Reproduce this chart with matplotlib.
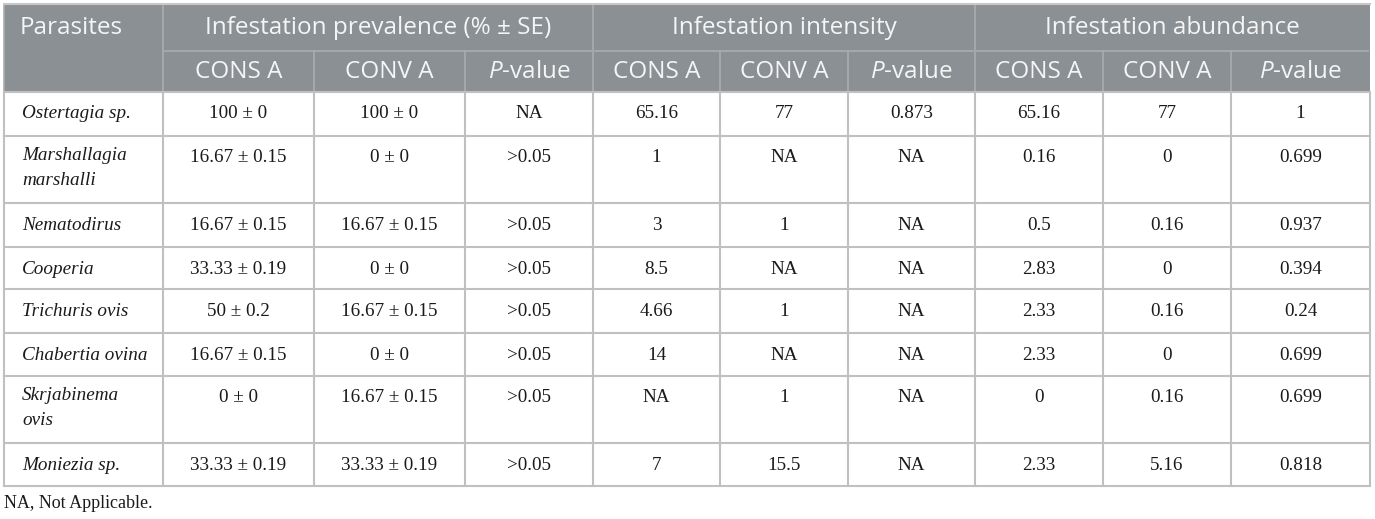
import matplotlib
matplotlib.use("Agg")
import matplotlib.pyplot as plt
from matplotlib.patches import Rectangle

plt.rcParams['mathtext.fontset'] = 'custom'
plt.rcParams['mathtext.rm'] = 'Open Sans'
plt.rcParams['mathtext.it'] = 'Open Sans:italic'

# table content
parasites = ["Ostertagia sp.", "Marshallagia\nmarshalli", "Nematodirus", "Cooperia",
             "Trichuris ovis", "Chabertia ovina", "Skrjabinema\novis", "Moniezia sp."]
prev_cons = ["100 ± 0", "16.67 ± 0.15", "16.67 ± 0.15", "33.33 ± 0.19",
             "50 ± 0.2", "16.67 ± 0.15", "0 ± 0", "33.33 ± 0.19"]
prev_conv = ["100 ± 0", "0 ± 0", "16.67 ± 0.15", "0 ± 0",
             "16.67 ± 0.15", "0 ± 0", "16.67 ± 0.15", "33.33 ± 0.19"]
prev_p = ["NA", ">0.05", ">0.05", ">0.05", ">0.05", ">0.05", ">0.05", ">0.05"]
int_cons = ["65.16", "1", "3", "8.5", "4.66", "14", "NA", "7"]
int_conv = ["77", "NA", "1", "NA", "1", "NA", "1", "15.5"]
int_p = ["0.873", "NA", "NA", "NA", "NA", "NA", "NA", "NA"]
abu_cons = ["65.16", "0.16", "0.5", "2.83", "2.33", "2.33", "0", "2.33"]
abu_conv = ["77", "0", "0.16", "0", "0.16", "0", "0.16", "5.16"]
abu_p = ["1", "0.699", "0.937", "0.394", "0.24", "0.699", "0.699", "0.818"]

groups = ["Infestation prevalence (% ± SE)", "Infestation intensity", "Infestation abundance"]
sub_labels = ["CONS A", "CONV A", r"$\mathit{P}$-value"]
footnote = "NA, Not Applicable."

# layout in pixels
col_x = [4, 163, 314, 465, 593, 720, 848, 975, 1103, 1231, 1370]
row_y = [4, 51, 92, 136, 203, 247, 289, 333, 376, 443, 486]

header_bg = "#8b9094"
header_fg = "#f5f5f5"
grid_c = "#c0c0c0"
text_c = "#1a1a1a"
sans = "Open Sans"
serif = "Liberation Serif"
hfs = 17.5
bfs = 13.8

fig = plt.figure(figsize=(13.75, 5.19), dpi=100)
ax = fig.add_axes([0, 0, 1, 1])
ax.set_xlim(0, 1375)
ax.set_ylim(519, 0)
ax.axis('off')

# header background
ax.add_patch(Rectangle((col_x[0], row_y[0]), col_x[-1] - col_x[0], row_y[2] - row_y[0],
                       facecolor=header_bg, edgecolor='none'))

# header lines (lighter)
hl = "#a9adb0"
ax.plot([col_x[0], col_x[0]], [row_y[0], row_y[2]], color=hl, lw=1.2)
for g in range(3):
    x0 = col_x[1 + 3 * g]
    ax.plot([x0, x0], [row_y[0], row_y[2]], color=hl, lw=1.2)
    ax.plot([x0 + 2, col_x[4 + 3 * g] - 2], [row_y[1], row_y[1]], color=hl, lw=1.2)
    for k in (1, 2):
        xs = col_x[1 + 3 * g + k]
        ax.plot([xs, xs], [row_y[1], row_y[2]], color=hl, lw=1.2)

# header text
ax.text(20, (row_y[0] + row_y[1]) / 2 + 1, "Parasites", color=header_fg, fontsize=hfs,
        family=sans, ha='left', va='center')
for g, name in enumerate(groups):
    xc = (col_x[1 + 3 * g] + col_x[4 + 3 * g]) / 2
    ax.text(xc, (row_y[0] + row_y[1]) / 2 + 1, name, color=header_fg, fontsize=hfs,
            family=sans, ha='center', va='center')
    for k, lab in enumerate(sub_labels):
        xc = (col_x[1 + 3 * g + k] + col_x[2 + 3 * g + k]) / 2
        ax.text(xc, (row_y[1] + row_y[2]) / 2 + 1, lab, color=header_fg, fontsize=hfs,
                family=sans, ha='center', va='center')

# body grid
for y in row_y[2:]:
    ax.plot([col_x[0], col_x[-1]], [y, y], color=grid_c, lw=1.5)
for x in col_x:
    ax.plot([x, x], [row_y[2], row_y[-1]], color=grid_c, lw=1.5)
ax.plot([col_x[0], col_x[-1]], [row_y[0], row_y[0]], color="#c8c8c8", lw=1.5)

# body text
columns = [prev_cons, prev_conv, prev_p, int_cons, int_conv, int_p, abu_cons, abu_conv, abu_p]
for i, name in enumerate(parasites):
    y = row_y[2 + i] + 22
    if '\n' in name:
        ax.text(22, y - 11, name, color=text_c, fontsize=bfs, family=serif, style='italic',
                ha='left', va='top', linespacing=1.6)
    else:
        ax.text(22, y, name, color=text_c, fontsize=bfs, family=serif, style='italic',
                ha='left', va='center')
    for j, col in enumerate(columns):
        xc = (col_x[1 + j] + col_x[2 + j]) / 2
        ax.text(xc, y, col[i], color=text_c, fontsize=bfs, family=serif,
                ha='center', va='center')

ax.text(4, 503, footnote, color=text_c, fontsize=13, family=serif, ha='left', va='center')

fig.savefig("out.png", dpi=100)
